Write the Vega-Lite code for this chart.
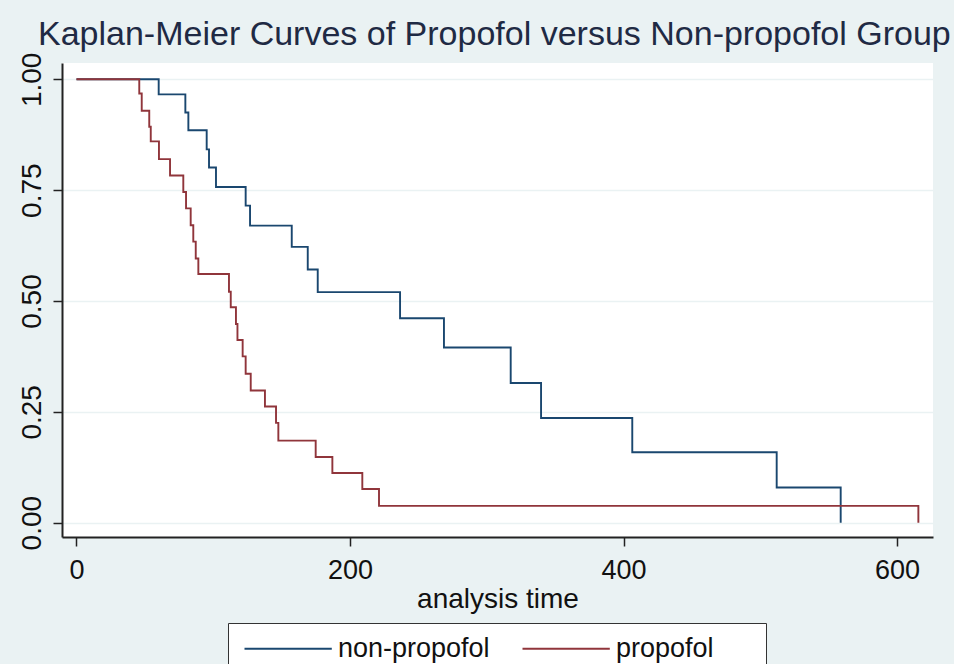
{
  "$schema": "https://vega.github.io/schema/vega-lite/v6.json",
  "autosize": {"type": "none"},
  "padding": {"left": 62, "top": 63, "right": 21, "bottom": 127},
  "width": 871,
  "height": 474,
  "background": "#EAF2F3",
  "title": {
    "text": "Kaplan-Meier Curves of Propofol versus Non-propofol Group",
    "anchor": "start",
    "fontSize": 34,
    "fontWeight": "normal",
    "color": "#1F2A44",
    "dx": 20,
    "dy": 14,
    "offset": 14
  },
  "config": {
    "font": "Liberation Sans",
    "view": {"fill": "white", "stroke": null}
  },
  "data": {
    "values": [
      {"group": "non-propofol", "time": 0, "survival": 1},
      {"group": "non-propofol", "time": 60.1, "survival": 0.966},
      {"group": "non-propofol", "time": 79.6, "survival": 0.925},
      {"group": "non-propofol", "time": 81.8, "survival": 0.885},
      {"group": "non-propofol", "time": 95.2, "survival": 0.842},
      {"group": "non-propofol", "time": 96.9, "survival": 0.801},
      {"group": "non-propofol", "time": 102, "survival": 0.757},
      {"group": "non-propofol", "time": 123.7, "survival": 0.715},
      {"group": "non-propofol", "time": 126.9, "survival": 0.67},
      {"group": "non-propofol", "time": 157.4, "survival": 0.622},
      {"group": "non-propofol", "time": 169.1, "survival": 0.571},
      {"group": "non-propofol", "time": 176.4, "survival": 0.52},
      {"group": "non-propofol", "time": 236.6, "survival": 0.461},
      {"group": "non-propofol", "time": 268.7, "survival": 0.395},
      {"group": "non-propofol", "time": 317.5, "survival": 0.315},
      {"group": "non-propofol", "time": 339.7, "survival": 0.236},
      {"group": "non-propofol", "time": 406.4, "survival": 0.159},
      {"group": "non-propofol", "time": 512, "survival": 0.0795},
      {"group": "non-propofol", "time": 558.8, "survival": 0},
      {"group": "propofol", "time": 0, "survival": 1},
      {"group": "propofol", "time": 45.9, "survival": 0.968},
      {"group": "propofol", "time": 47.7, "survival": 0.929},
      {"group": "propofol", "time": 53.2, "survival": 0.893},
      {"group": "propofol", "time": 54.3, "survival": 0.86},
      {"group": "propofol", "time": 60.3, "survival": 0.82},
      {"group": "propofol", "time": 68.4, "survival": 0.783},
      {"group": "propofol", "time": 78.1, "survival": 0.746},
      {"group": "propofol", "time": 80.1, "survival": 0.709},
      {"group": "propofol", "time": 83.5, "survival": 0.671},
      {"group": "propofol", "time": 85.4, "survival": 0.634},
      {"group": "propofol", "time": 87.2, "survival": 0.596},
      {"group": "propofol", "time": 89.1, "survival": 0.561},
      {"group": "propofol", "time": 111.5, "survival": 0.521},
      {"group": "propofol", "time": 112.8, "survival": 0.486},
      {"group": "propofol", "time": 116.6, "survival": 0.448},
      {"group": "propofol", "time": 117.7, "survival": 0.412},
      {"group": "propofol", "time": 121.5, "survival": 0.375},
      {"group": "propofol", "time": 123.7, "survival": 0.336},
      {"group": "propofol", "time": 127.4, "survival": 0.298},
      {"group": "propofol", "time": 137.8, "survival": 0.262},
      {"group": "propofol", "time": 145.9, "survival": 0.225},
      {"group": "propofol", "time": 147.6, "survival": 0.185},
      {"group": "propofol", "time": 174.9, "survival": 0.148},
      {"group": "propofol", "time": 187.1, "survival": 0.112},
      {"group": "propofol", "time": 209, "survival": 0.076},
      {"group": "propofol", "time": 221.2, "survival": 0.038},
      {"group": "propofol", "time": 615.6, "survival": 0}
    ]
  },
  "mark": {"type": "line", "interpolate": "step-after", "strokeWidth": 1.9, "clip": true},
  "encoding": {
    "x": {
      "field": "time",
      "type": "quantitative",
      "scale": {"domain": [-10.6, 626.3], "nice": false, "zero": false},
      "axis": {
        "title": "analysis time",
        "values": [0, 200, 400, 600],
        "format": "d",
        "grid": false,
        "domainColor": "#222",
        "domainWidth": 2,
        "tickColor": "#222",
        "tickWidth": 1.5,
        "tickSize": 9,
        "labelFontSize": 27,
        "labelColor": "#111",
        "labelPadding": 11,
        "titleFontSize": 28,
        "titleFontWeight": "normal",
        "titleColor": "#111",
        "titlePadding": 2
      }
    },
    "y": {
      "field": "survival",
      "type": "quantitative",
      "scale": {"domain": [-0.0323, 1.0368], "nice": false, "zero": false},
      "axis": {
        "title": null,
        "values": [0, 0.25, 0.5, 0.75, 1],
        "format": ".2f",
        "grid": true,
        "gridColor": "#EAF2F3",
        "gridWidth": 1.5,
        "domainColor": "#222",
        "domainWidth": 2,
        "tickColor": "#222",
        "tickWidth": 1.5,
        "tickSize": 9,
        "labelFontSize": 28,
        "labelColor": "#111",
        "labelAngle": 270,
        "labelAlign": "center",
        "labelBaseline": "alphabetic",
        "labelPadding": 13
      }
    },
    "color": {
      "field": "group",
      "type": "nominal",
      "scale": {"domain": ["non-propofol", "propofol"], "range": ["#1A476F", "#90353B"]},
      "legend": {
        "title": null,
        "orient": "none",
        "legendX": 166,
        "legendY": 560,
        "direction": "horizontal",
        "fillColor": "white",
        "strokeColor": "#333",
        "padding": 12,
        "symbolType": "M-1,0H8.7",
        "symbolSize": 324,
        "symbolStrokeWidth": 1.9,
        "labelFontSize": 27,
        "labelColor": "#111",
        "labelOffset": 71,
        "columnPadding": 28,
        "labelExpr": "datum.label == 'propofol' ? 'propofol\u2800\u2800' : datum.label"
      }
    }
  }
}
